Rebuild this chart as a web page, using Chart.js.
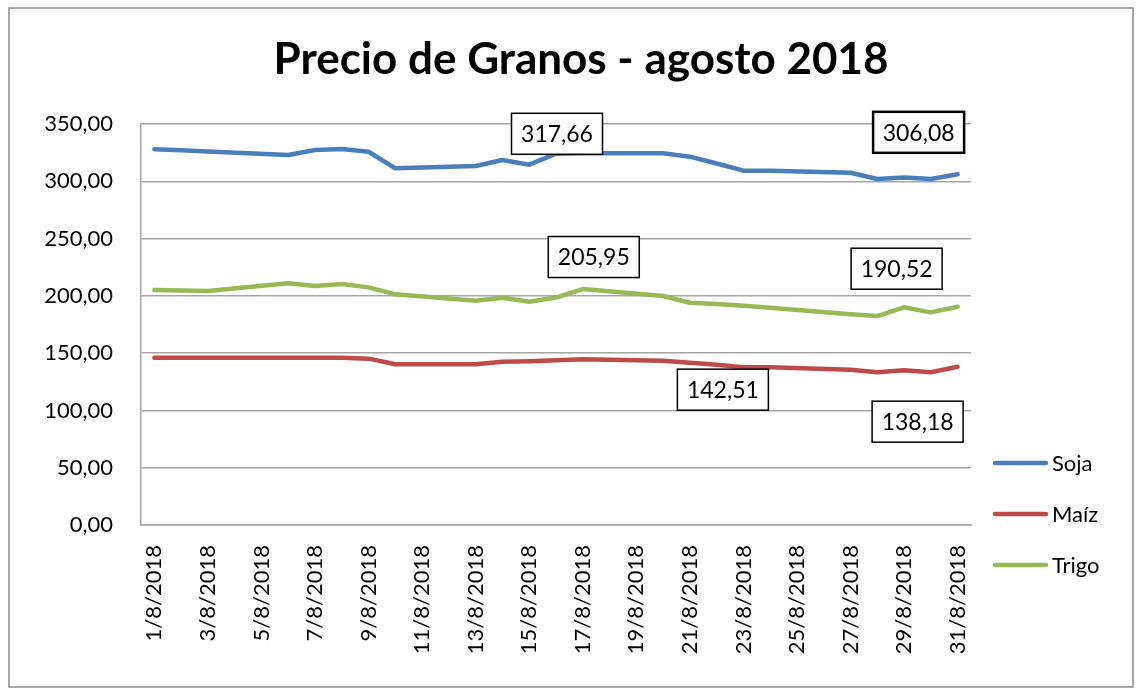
<!DOCTYPE html>
<html>
<head>
<meta charset="utf-8">
<script src="https://cdn.jsdelivr.net/npm/chart.js@4/dist/chart.umd.min.js"></script>
<style>
  html, body { margin: 0; padding: 0; background: #fff; }
  #wrap { width: 1141px; height: 689px; }
</style>
</head>
<body>
<div id="wrap"><canvas id="lineChart" width="1141" height="689"></canvas></div>
<script>
const fechas = ['1/8/2018', '2/8/2018', '3/8/2018', '4/8/2018', '5/8/2018', '6/8/2018',
    '7/8/2018', '8/8/2018', '9/8/2018', '10/8/2018', '11/8/2018', '12/8/2018',
    '13/8/2018', '14/8/2018', '15/8/2018', '16/8/2018', '17/8/2018', '18/8/2018',
    '19/8/2018', '20/8/2018', '21/8/2018', '22/8/2018', '23/8/2018', '24/8/2018',
    '25/8/2018', '26/8/2018', '27/8/2018', '28/8/2018', '29/8/2018', '30/8/2018',
    '31/8/2018'];
// weekends have no price (null), the line just runs across them
const soja = [328, 327, 326, null, null, 323, 327.3, 328.2, 325.8, 311.3, null, null,
    313.3, 318.6, 314.5, 324, 324.4, null, null, 324.4, 321.5, 315.5, 309.3, 309.3,
    null, null, 307.5, 302, 303.2, 302, 306.08];
const maiz = [146, 146, 146, null, null, 146, 146, 146, 145.2, 140.3, null, null,
    140.3, 142.5, 143, 143.8, 144.6, null, null, 143.3, 141.7, 139.8, 137.6, 137.6,
    null, null, 135.5, 133.3, 135, 133.3, 138.18];
const trigo = [205.1, 204.6, 204.2, null, null, 211, 208.6, 210.3, 207.4, 201.3, null, null,
    195.8, 198.4, 194.9, 198.5, 205.95, null, null, 199.9, 194, 192.8, 191.3, 189.7,
    null, null, 184, 182.4, 190, 185.6, 190.52];
const yTicks = [0, 50, 100, 150, 200, 250, 300, 350];

// text boxes: series, point index, shift from the point in px
const etiquetas = [
    { text: '317,66', ds: 0, i: 15, dx: 1, dy: -20, lw: 1.5 },
    { text: '306,08', ds: 0, i: 30, dx: -39, dy: -42, lw: 2.5 },
    { text: '205,95', ds: 2, i: 16, dx: 11, dy: -32, lw: 1.5 },
    { text: '190,52', ds: 2, i: 30, dx: -61, dy: -38, lw: 1.5 },
    { text: '142,51', ds: 1, i: 20, dx: 33, dy: 27, lw: 1.5 },
    { text: '138,18', ds: 1, i: 30, dx: -40, dy: 55, lw: 1.5 }
];

const FONT = 'Lato, "Open Sans", sans-serif';
const fmt = v => v.toFixed(2).replace('.', ',');

const decoPlugin = {
    id: 'deco',
    afterDraw(chart) {
        const ctx = chart.ctx;
        ctx.save();
        // outer frame
        ctx.strokeStyle = '#8a8a8a';
        ctx.lineWidth = 1.5;
        ctx.strokeRect(9, 8, 1124, 679);

        // title
        ctx.fillStyle = '#000';
        ctx.font = 'bold 44px ' + FONT;
        ctx.textAlign = 'center';
        ctx.textBaseline = 'alphabetic';
        ctx.fillText('Precio de Granos - agosto 2018', 581, 74);

        // value boxes
        ctx.font = '23px ' + FONT;
        ctx.textBaseline = 'middle';
        etiquetas.forEach(e => {
            const pt = chart.getDatasetMeta(e.ds).data[e.i];
            const cx = pt.x + e.dx, cy = pt.y + e.dy;
            ctx.fillStyle = '#fff';
            ctx.fillRect(cx - 45.5, cy - 20.5, 91, 41);
            ctx.strokeStyle = '#000';
            ctx.lineWidth = e.lw;
            ctx.strokeRect(cx - 45.5, cy - 20.5, 91, 41);
            ctx.fillStyle = '#000';
            ctx.fillText(e.text, cx, cy + 1);
        });

        // legend
        ctx.font = '22px ' + FONT;
        ctx.textAlign = 'left';
        chart.data.datasets.forEach((ds, k) => {
            const y = 463 + k * 51;
            ctx.strokeStyle = ds.borderColor;
            ctx.lineWidth = 4.5;
            ctx.lineCap = 'round';
            ctx.beginPath();
            ctx.moveTo(995, y);
            ctx.lineTo(1046, y);
            ctx.stroke();
            ctx.fillStyle = '#000';
            ctx.fillText(ds.label, 1052, y + 1);
        });
        ctx.restore();
    }
};

function serie(label, data, color) {
    return {
        label: label,
        data: data,
        borderColor: color,
        backgroundColor: color,
        borderWidth: 4.5,
        borderJoinStyle: 'round',
        borderCapStyle: 'round',
        pointRadius: 0,
        tension: 0,
        spanGaps: true
    };
}

new Chart(document.getElementById('lineChart').getContext('2d'), {
    type: 'line',
    data: {
        labels: fechas,
        datasets: [
            serie('Soja', soja, '#4a7ebb'),
            serie('Maíz', maiz, '#be4b48'),
            serie('Trigo', trigo, '#98b954')
        ]
    },
    options: {
        responsive: false,
        animation: false,
        layout: { padding: { left: 20, top: 124, right: 170, bottom: 10 } },
        plugins: {
            legend: { display: false },
            title: { display: false },
            tooltip: { enabled: false }
        },
        scales: {
            x: {
                offset: true,
                grid: { display: false },
                border: { display: true, color: '#a6a6a6', width: 1.5 },
                ticks: {
                    autoSkip: false,
                    minRotation: 90,
                    maxRotation: 90,
                    padding: 12,
                    color: '#000',
                    font: { family: FONT, size: 22 },
                    callback: (v, i) => (i % 2 === 0 ? fechas[i] : '')
                },
                afterFit: s => { s.height = 154; }
            },
            y: {
                min: 0,
                max: 350,
                afterBuildTicks: s => { s.ticks = yTicks.map(v => ({ value: v })); },
                grid: { color: '#a6a6a6', lineWidth: 1.5, drawTicks: false },
                border: { display: true, color: '#a6a6a6', width: 1.5 },
                ticks: {
                    padding: 28,
                    color: '#000',
                    font: { family: FONT, size: 22 },
                    callback: v => fmt(v)
                },
                afterFit: s => { s.width = 121; }
            }
        }
    },
    plugins: [decoPlugin]
});
</script>
</body>
</html>
